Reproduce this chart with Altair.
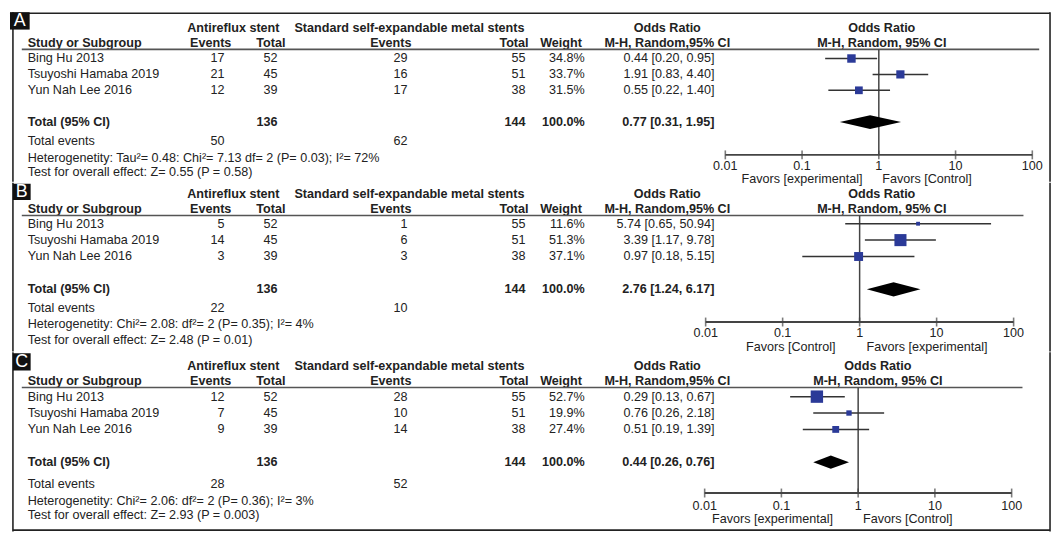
import altair as alt
import pandas as pd

# ---------------- data ----------------
studies = ["Bing Hu 2013", "Tsuyoshi Hamaba 2019", "Yun Nah Lee 2016"]
exp_total = [52, 45, 39]
ctl_total = [55, 51, 38]

a_exp_events = [17, 21, 12]
a_ctl_events = [29, 16, 17]
a_weight = [34.8, 33.7, 31.5]
a_or = [0.44, 1.91, 0.55]
a_lo = [0.20, 0.83, 0.22]
a_hi = [0.95, 4.40, 1.40]
a_pooled = [0.77, 0.31, 1.95]
a_het = "Heterogenetity: Tau\u00b2= 0.48: Chi\u00b2= 7.13 df= 2 (P= 0.03); I\u00b2= 72%"
a_test = "Test for overall effect: Z= 0.55 (P = 0.58)"
a_favors = ["Favors [experimental]", "Favors [Control]"]

b_exp_events = [5, 14, 3]
b_ctl_events = [1, 6, 3]
b_weight = [11.6, 51.3, 37.1]
b_or = [5.74, 3.39, 0.97]
b_lo = [0.65, 1.17, 0.18]
b_hi = [50.94, 9.78, 5.15]
b_pooled = [2.76, 1.24, 6.17]
b_het = "Heterogenetity: Chi\u00b2= 2.08: df\u00b2= 2 (P= 0.35); I\u00b2= 4%"
b_test = "Test for overall effect: Z= 2.48 (P = 0.01)"
b_favors = ["Favors [Control]", "Favors [experimental]"]

c_exp_events = [12, 7, 9]
c_ctl_events = [28, 10, 14]
c_weight = [52.7, 19.9, 27.4]
c_or = [0.29, 0.76, 0.51]
c_lo = [0.13, 0.26, 0.19]
c_hi = [0.67, 2.18, 1.39]
c_pooled = [0.44, 0.26, 0.76]
c_het = "Heterogenetity: Chi\u00b2= 2.06: df\u00b2= 2 (P= 0.36); I\u00b2= 3%"
c_test = "Test for overall effect: Z= 2.93 (P = 0.003)"
c_favors = ["Favors [experimental]", "Favors [Control]"]

tick_values = [0.01, 0.1, 1, 10, 100]
tick_labels = ["0.01", "0.1", "1", "10", "100"]
group_labels = ["Antireflux stent", "Standard self-expandable metal stents"]

PANELS = [
    dict(key="A", exp_events=a_exp_events, ctl_events=a_ctl_events, weight=a_weight,
         orr=a_or, lo=a_lo, hi=a_hi, pooled=a_pooled, het=a_het, test=a_test, favors=a_favors),
    dict(key="B", exp_events=b_exp_events, ctl_events=b_ctl_events, weight=b_weight,
         orr=b_or, lo=b_lo, hi=b_hi, pooled=b_pooled, het=b_het, test=b_test, favors=b_favors),
    dict(key="C", exp_events=c_exp_events, ctl_events=c_ctl_events, weight=c_weight,
         orr=c_or, lo=c_lo, hi=c_hi, pooled=c_pooled, het=c_het, test=c_test, favors=c_favors),
]

# ---------------- layout (reference pixel units) ----------------
W = 1050
SX = W / 1058.0
SY = 522.0 / 537.0
FONT = "Liberation Sans"
FS = 12.7
TXT = "#222222"
SQ = "#2b3a98"

LAYOUT = {
    "A": dict(top=0, bottom=176, box=(0, 20, 0, 18), h1=16, h2=31.5, ul=38.5, s0=48, sp=16.5,
              tev=134, het=151, test=166, axis=148, tl=160, fav=173,
              fx0=727, fx1=1039, ulx1=1046, favl=805, favr=932, fhead=886, dh=7.2),
    "B": dict(top=176, bottom=351, box=(3, 21, 177, 194), h1=187.5, h2=203, ul=210, s0=218.5, sp=17,
              tev=306, het=323, test=339, axis=320.5, tl=332, fav=346,
              fx0=707, fx1=1020, ulx1=1030, favl=793.5, favr=932, fhead=886, dh=7.4),
    "C": dict(top=351, bottom=537, box=(3, 21, 352, 370), h1=365, h2=381, ul=387.5, s0=397, sp=17,
              tev=488, het=505, test=520, axis=497, tl=511, fav=524,
              fx0=706, fx1=1018, ulx1=1029, favl=775, favr=912.5, fhead=882, dh=6.8),
}


def X(v):
    return v * SX


def build_panel(d):
    L = LAYOUT[d["key"]]
    top, bottom = L["top"], L["bottom"]
    H = (bottom - top) * SY

    def R(v):
        return (v - L["s0"]) / L["sp"]

    yscale = alt.Scale(domain=[R(top), R(bottom)], range=[0, H], nice=False, zero=False)
    xscale = alt.Scale(type="log", domain=[0.01, 100], range=[X(L["fx0"]), X(L["fx1"])], nice=False)

    def Yf(f="row"):
        return alt.Y(f"{f}:Q", scale=yscale, axis=None)

    def Xf(f):
        return alt.X(f"{f}:Q", scale=xscale, axis=None)

    def PY(v):
        return (v - top) * SY

    one = pd.DataFrame({"a": [0]})
    layers = []

    def label(text, y_img, x_img, align, bold=False, size=FS, color=TXT):
        df = pd.DataFrame({"t": [text], "row": [R(y_img)]})
        layers.append(
            alt.Chart(df).mark_text(align=align, baseline="middle", font=FONT, fontSize=size,
                                    fontWeight="bold" if bold else "normal", color=color)
            .encode(x=alt.value(X(x_img)), y=Yf(), text="t:N")
        )

    n = len(studies)
    df = pd.DataFrame({
        "study": studies, "row": list(range(n)),
        "e_ev": d["exp_events"], "e_tot": exp_total,
        "c_ev": d["ctl_events"], "c_tot": ctl_total,
        "w": d["weight"], "or": d["orr"], "lo": d["lo"], "hi": d["hi"],
    })
    df["w_lbl"] = [f"{v:.1f}%" for v in df["w"]]
    df["or_lbl"] = [f"{o:.2f} [{l:.2f}, {h:.2f}]" for o, l, h in zip(df["or"], df["lo"], df["hi"])]

    # frame lines
    layers.append(alt.Chart(one).mark_rule(color="#222", strokeWidth=1.6).encode(
        x=alt.value(X(3)), y=alt.value(0), y2=alt.value(H)))
    layers.append(alt.Chart(one).mark_rule(color="#222", strokeWidth=1.6).encode(
        x=alt.value(X(1057)), y=alt.value(0), y2=alt.value(H)))
    if d["key"] == "A":
        layers.append(alt.Chart(one).mark_rule(color="#222", strokeWidth=1.6).encode(
            x=alt.value(X(0)), x2=alt.value(X(1057)), y=alt.value(PY(1))))
    if d["key"] == "C":
        layers.append(alt.Chart(one).mark_rule(color="#222", strokeWidth=1.6).encode(
            x=alt.value(X(3)), x2=alt.value(X(1057)), y=alt.value(PY(535.5))))

    # panel letter box
    bx0, bx1, by0, by1 = L["box"]
    layers.append(alt.Chart(one).mark_rect(color="#111").encode(
        x=alt.value(X(bx0)), x2=alt.value(X(bx1)), y=alt.value(PY(by0)), y2=alt.value(PY(by1))))
    layers.append(alt.Chart(pd.DataFrame({"t": [d["key"]]})).mark_text(
        align="center", baseline="middle", font=FONT, fontSize=18, color="white").encode(
        x=alt.value(X((bx0 + bx1) / 2)), y=alt.value(PY((by0 + by1) / 2 + 0.5)), text="t:N"))

    # headers
    label(group_labels[0], L["h1"], 227, "center", True)
    label(group_labels[1], L["h1"], 406, "center", True)
    label("Odds Ratio", L["h1"], 668, "center", True)
    label("Odds Ratio", L["h1"], L["fhead"], "center", True)
    label("Study or Subgroup", L["h2"], 18, "left", True)
    label("Events", L["h2"], 204, "center", True)
    label("Total", L["h2"], 280, "right", True)
    label("Events", L["h2"], 387, "center", True)
    label("Total", L["h2"], 527, "right", True)
    label("Weight", L["h2"], 560, "center", True)
    label("M-H, Random,95% CI", L["h2"], 668, "center", True)
    label("M-H, Random, 95% CI", L["h2"], L["fhead"], "center", True)

    # header underline
    layers.append(alt.Chart(pd.DataFrame({"row": [R(L["ul"])]})).mark_rule(
        color="#555", strokeWidth=1.6).encode(
        x=alt.value(X(12)), x2=alt.value(X(L["ulx1"])), y=Yf()))

    # study rows
    def col(field, x_img, align):
        layers.append(
            alt.Chart(df).mark_text(align=align, baseline="middle", font=FONT, fontSize=FS, color=TXT)
            .encode(x=alt.value(X(x_img)), y=Yf(), text=f"{field}:N")
        )

    col("study", 18, "left")
    col("e_ev", 218, "right")
    col("e_tot", 272, "right")
    col("c_ev", 404, "right")
    col("c_tot", 524, "right")
    col("w_lbl", 584, "right")
    col("or_lbl", 716, "right")

    # total row
    tot_y = L["s0"] + (n + 1) * L["sp"]
    est, plo, phi = d["pooled"]
    label("Total (95% CI)", tot_y, 18, "left", True)
    label(str(sum(exp_total)), tot_y, 272, "right", True)
    label(str(sum(ctl_total)), tot_y, 524, "right", True)
    label(f"{sum(d['weight']):.1f}%", tot_y, 584, "right", True)
    label(f"{est:.2f} [{plo:.2f}, {phi:.2f}]", tot_y, 716, "right", True)

    # footer
    label("Total events", L["tev"], 18, "left")
    label(str(sum(d["exp_events"])), L["tev"], 218, "right")
    label(str(sum(d["ctl_events"])), L["tev"], 404, "right")
    label(d["het"], L["het"], 18, "left")
    label(d["test"], L["test"], 18, "left")

    # forest: vertical line of no effect
    layers.append(alt.Chart(pd.DataFrame({"x": [1.0], "row": [R(L["ul"])], "row2": [R(L["axis"])]}))
                  .mark_rule(color="#444", strokeWidth=1.5)
                  .encode(x=Xf("x"), y=Yf(), y2="row2:Q"))

    # CI lines
    layers.append(alt.Chart(df).mark_rule(color="#333", strokeWidth=1.5)
                  .encode(x=Xf("lo"), x2="hi:Q", y=Yf()))
    # squares
    layers.append(alt.Chart(df).mark_square(filled=True, color=SQ, opacity=1)
                  .encode(x=Xf("or"), y=Yf(),
                          size=alt.Size("w:Q", scale=alt.Scale(type="pow", exponent=2, domain=[0, 100],
                                                               range=[8, 540]), legend=None)))
    # diamond
    tr = n + 1
    dh = L["dh"] / L["sp"]
    dd = pd.DataFrame({"x": [plo, est, phi], "row": [tr, tr - dh, tr], "row2": [tr, tr + dh, tr]})
    layers.append(alt.Chart(dd).mark_area(color="black", orient="vertical", interpolate="linear")
                  .encode(x=Xf("x"), y=Yf(), y2="row2:Q"))

    # axis
    layers.append(alt.Chart(pd.DataFrame({"x": [tick_values[0]], "x2": [tick_values[-1]], "row": [R(L["axis"])]}))
                  .mark_rule(color="#444", strokeWidth=2)
                  .encode(x=Xf("x"), x2="x2:Q", y=Yf()))
    tdf = pd.DataFrame({"v": tick_values, "lbl": tick_labels, "row": [R(L["axis"])] * len(tick_values),
                        "row_l": [R(L["tl"])] * len(tick_values)})
    layers.append(alt.Chart(tdf).mark_tick(orient="vertical", color="#444", size=9, thickness=1.6)
                  .encode(x=Xf("v"), y=Yf()))
    layers.append(alt.Chart(tdf).mark_text(align="center", baseline="middle", font=FONT, fontSize=FS, color=TXT)
                  .encode(x=Xf("v"), y=Yf("row_l"), text="lbl:N"))
    label(d["favors"][0], L["fav"], L["favl"], "center")
    label(d["favors"][1], L["fav"], L["favr"], "center")

    return alt.layer(*layers).properties(width=W, height=H)


panels = [build_panel(p) for p in PANELS]

chart = alt.vconcat(*panels, spacing=0, bounds="flush").resolve_scale(
    x="independent", y="independent", size="independent"
).properties(padding=0).configure_view(stroke="transparent")

chart.save("out.html", embed_options={"renderer": "svg", "actions": False})
